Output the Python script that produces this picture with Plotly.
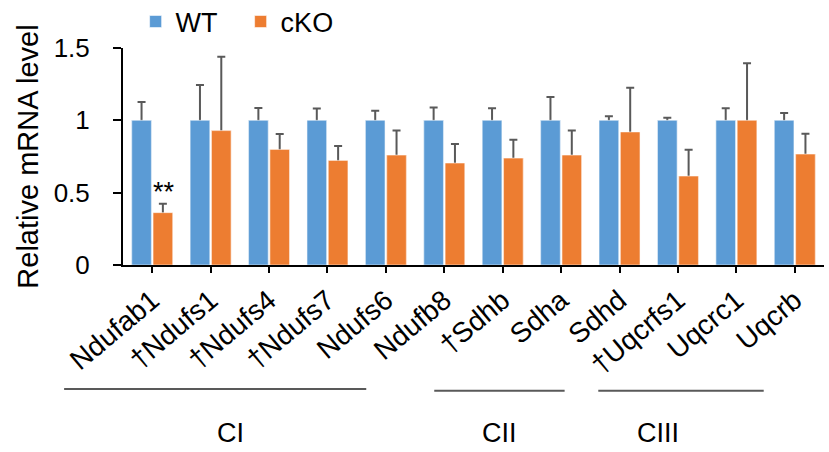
import plotly.graph_objects as go

genes = ["Ndufab1", "†Ndufs1", "†Ndufs4", "†Ndufs7", "Ndufs6", "Ndufb8",
         "†Sdhb", "Sdha", "Sdhd", "†Uqcrfs1", "Uqcrc1", "Uqcrb"]
wt_vals = [1.0] * 12
wt_err = [0.127, 0.245, 0.086, 0.081, 0.067, 0.088, 0.083, 0.162, 0.028, 0.017, 0.083, 0.051]
cko_vals = [0.362, 0.929, 0.799, 0.723, 0.760, 0.705, 0.739, 0.760, 0.920, 0.615, 1.0, 0.767]
cko_err = [0.061, 0.510, 0.107, 0.100, 0.169, 0.131, 0.127, 0.169, 0.305, 0.182, 0.395, 0.141]
y_ticks = [0, 0.5, 1, 1.5]
y_ticklabels = ["0", "0.5", "1", "1.5"]
groups = ["CI", "CII", "CIII"]

BLUE = "#5B9BD5"
ORANGE = "#ED7D31"
ERR = "#595959"
FONT = "Liberation Sans, Arial, sans-serif"

fig = go.Figure()

# bars with (upward) error bars on the base axes
for name, vals, errs, col in [("WT", wt_vals, wt_err, BLUE), ("cKO", cko_vals, cko_err, ORANGE)]:
    fig.add_trace(go.Bar(
        x=genes, y=vals, name=name, marker=dict(color=col, line=dict(color="rgba(255,255,255,0.55)", width=1)),
        error_y=dict(type="data", symmetric=False, array=errs, arrayminus=[0.012] * len(errs),
                     color=ERR, thickness=2, width=4),
        showlegend=True, xaxis="x", yaxis="y",
    ))
# identical bars drawn on top so only the upward part of each error bar shows
for name, vals, col in [("WT", wt_vals, BLUE), ("cKO", cko_vals, ORANGE)]:
    fig.add_trace(go.Bar(
        x=genes, y=vals, name=name, marker=dict(color=col, line=dict(color="rgba(255,255,255,0.55)", width=1)),
        showlegend=False, xaxis="x2", yaxis="y2", hoverinfo="skip",
    ))

fig.update_layout(
    width=829, height=452,
    margin=dict(l=123, r=5, t=48, b=187, autoexpand=False),
    paper_bgcolor="white", plot_bgcolor="white",
    barmode="group", bargap=0.27, bargroupgap=0.08,
    font=dict(family=FONT, color="black", size=26),
    showlegend=True,
    legend=dict(orientation="h", x=0.018, y=1.12, xanchor="left", yanchor="middle",
                font=dict(size=27, family=FONT), entrywidth=60, entrywidthmode="pixels",
                tracegroupgap=0, bgcolor="rgba(0,0,0,0)"),
    xaxis=dict(type="category", categoryorder="array", categoryarray=genes,
               showline=True, linecolor="black", linewidth=2,
               ticks="outside", ticklen=6, tickwidth=2, tickcolor="black",
               tickangle=-40, tickfont=dict(size=28, family=FONT),
               showgrid=False, zeroline=False, automargin=False),
    yaxis=dict(range=[0, 1.5], tickvals=y_ticks, ticktext=y_ticklabels,
               showline=True, linecolor="black", linewidth=2,
               ticks="outside", ticklen=8, tickwidth=2, tickcolor="black",
               tickfont=dict(size=26, family=FONT), ticklabelstandoff=18,
               showgrid=False, zeroline=False, automargin=False,
               title=dict(text="Relative mRNA level", font=dict(size=29, family=FONT), standoff=6)),
    xaxis2=dict(type="category", categoryorder="array", categoryarray=genes,
                overlaying="x", matches="x", visible=False),
    yaxis2=dict(range=[0, 1.5], overlaying="y", matches="y", visible=False),
)

# significance marker
fig.add_annotation(x=genes[0], y=cko_vals[0] + cko_err[0], xref="x", yref="y",
                   text="**", showarrow=False, xshift=12, yshift=-5, yanchor="bottom",
                   font=dict(size=27, family=FONT))

# complex group brackets
spans = [(-0.084, 0.347, -0.571), (0.444, 0.630, -0.58), (0.678, 0.914, -0.58)]
for label, (x0, x1, yy) in zip(groups, spans):
    fig.add_shape(type="line", xref="paper", yref="paper", x0=x0, x1=x1, y0=yy, y1=yy,
                  line=dict(color="#595959", width=2))
    fig.add_annotation(x=(x0 + x1) / 2, y=-0.775, xref="paper", yref="paper", text=label,
                       showarrow=False, font=dict(size=27, family=FONT), yanchor="middle")

fig.write_html("out.html", config={"displayModeBar": False},
               post_script="document.body.style.margin='0';document.body.style.padding='0';")
